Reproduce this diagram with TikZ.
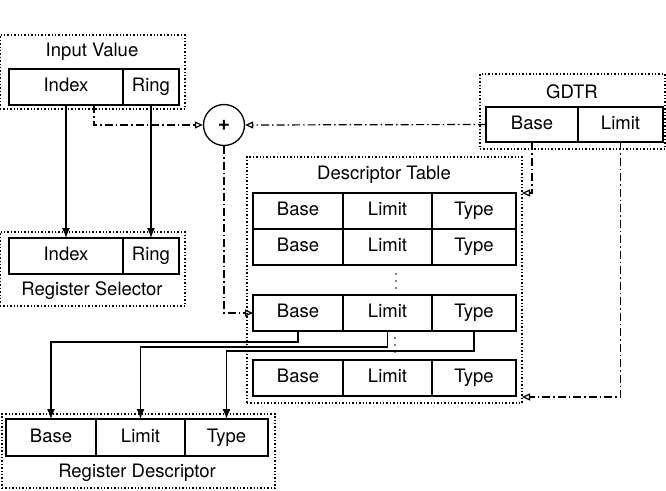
\documentclass[tikz,border=0pt]{standalone}
\usepackage{fontspec}
\setmainfont{TeX Gyre Heros}
\usetikzlibrary{arrows.meta,positioning,calc}
\tikzset{
  cell/.style={draw, line width=1.3pt, outer sep=0pt, inner sep=0pt, minimum height=36pt, text height=13pt, text depth=4pt, font=\fontsize{18.5}{22}\selectfont},
  group/.style={draw, dotted, line width=1.4pt, outer sep=0pt, inner sep=0pt, anchor=north west},
  grouplabel/.style={font=\fontsize{18.5}{22}\selectfont},
  edge/.style={-{Latex[length=10pt,width=8pt]}, line width=1.3pt},
  dashedge/.style={-{Triangle[open,length=8pt,width=7pt]}, line width=1.2pt, dash pattern=on 8pt off 3pt on 1.5pt off 3pt},
  vdot/.style={fill, circle, inner sep=0pt, minimum size=1.8pt}
}

\begin{document}
\begin{tikzpicture}[x=1pt,y=-1pt]
\useasboundingbox (0,0) rectangle (666,490);

% input value
\node[group, minimum width=185pt, minimum height=74pt] (iv) at (0,35) {};
\node[grouplabel] (iv-label) at (92,52) {Input Value};
\node[cell, anchor=north west, minimum width=114pt] (iv-idx) at (9,69) {Index};
\node[cell, right=0pt of iv-idx, minimum width=56pt] (iv-ring) {Ring};

% register selector
\node[group, minimum width=185pt, minimum height=74pt] (rs) at (0,232) {};
\node[cell, anchor=north west, minimum width=114pt] (rs-idx) at (9,238) {Index};
\node[cell, right=0pt of rs-idx, minimum width=56pt] (rs-ring) {Ring};
\node[grouplabel] (rs-label) at (92,291) {Register Selector};

% adder
\node[draw, circle, line width=1.3pt, minimum size=41pt, inner sep=0pt, font=\bfseries\fontsize{21}{22}\selectfont] (sum) at (224,125) {+};

% GDTR
\node[group, minimum width=185pt, minimum height=75pt] (gd) at (480,74) {};
\node[grouplabel] (gd-label) at (572,92) {GDTR};
\node[cell, anchor=north west, minimum width=92pt, minimum height=35pt] (gd-base) at (486,107) {Base};
\node[cell, right=0pt of gd-base, minimum width=85pt, minimum height=35pt] (gd-limit) {Limit};

% descriptor table
\node[group, minimum width=275pt, minimum height=246pt] (dt) at (247,157) {};
\node[grouplabel] (dt-label) at (384,175) {Descriptor Table};
\foreach \r/\y in {1/193,2/229,3/295,4/360}{
  \node[cell, anchor=north west, minimum width=90pt] (dt-b\r) at (253,\y) {Base};
  \node[cell, right=0pt of dt-b\r, minimum width=89pt] (dt-l\r) {Limit};
  \node[cell, right=0pt of dt-l\r, minimum width=84pt] (dt-t\r) {Type};
}
% gaps in the table
\foreach \y in {274,281,288}
  \node[vdot] at (396,\y) {};
\foreach \y in {338,345,352}
  \node[vdot] at (395,\y) {};
\coordinate (dt-in1) at (dt.east |- dt-t1.north);
\coordinate (dt-in2) at ($(dt.south east)+(0,-6)$);

% register descriptor
\node[group, minimum width=273pt, minimum height=74pt] (rd) at (2,414) {};
\node[cell, anchor=north west, minimum width=90pt, minimum height=37pt] (rd-base) at (6,419) {Base};
\node[cell, right=0pt of rd-base, minimum width=89pt, minimum height=37pt] (rd-limit) {Limit};
\node[cell, right=0pt of rd-limit, minimum width=83pt, minimum height=37pt] (rd-type) {Type};
\node[grouplabel] (rd-label) at (137,473) {Register Descriptor};

% connectors
\draw[edge] (iv-idx) -- (rs-idx);
\draw[edge] (iv-ring) -- (rs-ring);
\draw[dashedge] ($(iv-idx.south west)!0.745!(iv-idx.south east)$) |- (sum.west);
\draw[dashedge] (gd-base.west) -- (sum.east);
\draw[dashedge] (gd-base.south) |- (dt-in1);
\draw[dashedge] (gd-limit.south) |- (dt-in2);
\draw[dashedge] (sum.south) |- (dt-b3.west);
\draw[edge] (dt-b3.south) -- ++(0,11) -| (rd-base.north);
\draw[edge] (dt-l3.south) -- ++(0,16) -| (rd-limit.north);
\draw[edge] (dt-t3.south) -- ++(0,20) -| (rd-type.north);
\end{tikzpicture}
\end{document}
